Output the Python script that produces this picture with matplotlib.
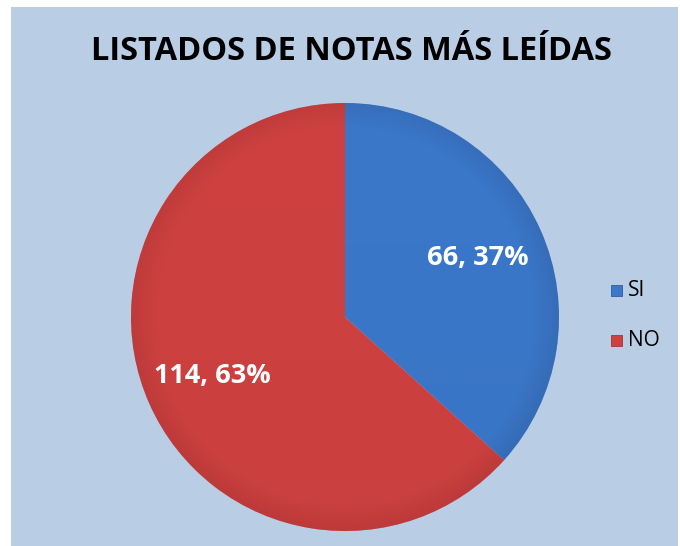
import matplotlib
matplotlib.use("Agg")
import matplotlib.pyplot as plt
from matplotlib.patches import Rectangle
import numpy as np

title = "LISTADOS DE NOTAS MÁS LEÍDAS"
categories = ["SI", "NO"]
values = [66, 114]
colors = ["#3B78CA", "#CF4141"]
dark = ["#2E5C9E", "#A83232"]

W, H = 680, 546
fig = plt.figure(figsize=(W/100, H/100), dpi=100)
fig.patch.set_facecolor("white")
bg = fig.add_axes([11/W, 0, (678-11)/W, (H-7)/H], zorder=-10)
bg.set_facecolor("#B9CDE5")
bg.set_xticks([]); bg.set_yticks([])
for s in bg.spines.values():
    s.set_visible(False)

cx, cy, r = 345, 317, 214
ax = fig.add_axes([(cx-r)/W, (H-cy-r)/H, 2*r/W, 2*r/H], zorder=1)
ax.set_aspect("equal")
total = sum(values)
wedges, _ = ax.pie(values, colors=colors, startangle=90, counterclock=False,
                   radius=1.0, wedgeprops=dict(edgecolor="none"))
# subtle shading: gradient overlay clipped to each wedge
yy, xx = np.mgrid[-1:1:300j, -1:1:300j]
rr = np.sqrt(xx**2 + yy**2)
shade = np.clip((rr - 0.88) / 0.12, 0, 1) * 0.35 + np.clip(-yy * 0.5 + 0.5, 0, 1) * 0.12
for w, c in zip(wedges, dark):
    rgba = np.zeros((300, 300, 4))
    rgb = matplotlib.colors.to_rgb(c)
    rgba[..., 0], rgba[..., 1], rgba[..., 2] = rgb
    rgba[..., 3] = shade
    im = ax.imshow(rgba, extent=(-1, 1, -1, 1), origin="lower", zorder=2)
    im.set_clip_path(w)
ax.set_xlim(-1.0, 1.0)
ax.set_ylim(-1.0, 1.0)
ax.axis("off")

# data labels
ang = 90
for v in values:
    frac = v / total
    mid = np.deg2rad(ang - frac * 360 / 2)
    ang -= frac * 360
    ax.text(0.68 * np.cos(mid), 0.68 * np.sin(mid),
            f"{v}, {round(frac*100)}%", ha="center", va="center",
            color="white", fontsize=19.5, fontweight="bold", family="Open Sans", zorder=5)

fig.text(351/W, 1 - 52/H, title, ha="center", va="center", fontsize=23.5,
         fontweight="bold", family="Open Sans")

# legend
for i, (cat, c) in enumerate(zip(categories, colors)):
    y = 291 + i * 50
    fig.patches.append(Rectangle((611/W, 1 - (y+5)/H), 11/W, 11/H, transform=fig.transFigure,
                                 facecolor=c, edgecolor=dark[i], lw=0.6, zorder=3))
    fig.text(628/W, 1 - y/H, cat, ha="left", va="center", fontsize=15, family="Open Sans")

fig.savefig("out.png", dpi=100)
